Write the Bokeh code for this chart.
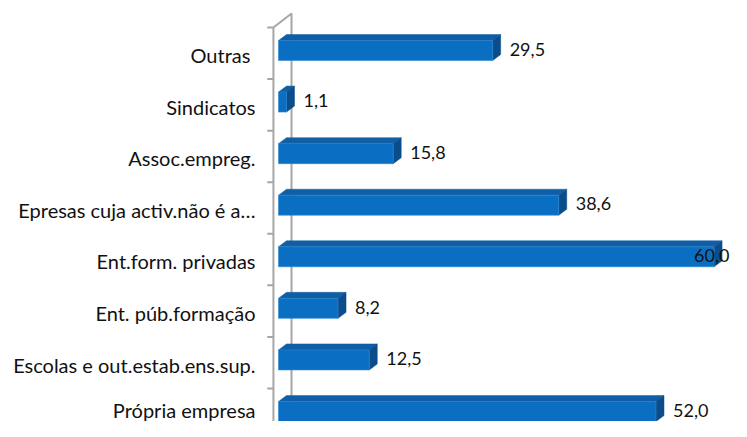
from bokeh.plotting import figure
from bokeh.models import Range1d, FixedTicker, ColumnDataSource
from bokeh.core.properties import value
from bokeh.embed import file_html
from bokeh.resources import INLINE

# ---- data (bottom to top) ----
categories = ["Própria empresa", "Escolas e out.estab.ens.sup.", "Ent. púb.formação",
              "Ent.form. privadas", "Epresas cuja activ.não é a…", "Assoc.empreg.",
              "Sindicatos", "Outras "]
values = [52.0, 12.5, 8.2, 60.0, 38.6, 15.8, 1.1, 29.5]
value_labels = ["52,0", "12,5", "8,2", "60,0", "38,6", "15,8", "1,1", "29,5"]

# ---- style ----
FONT = "Lato"
FS_CAT = "20px"
FS_VAL = "18px"
FRONT = "#0a6fc2"
TOP = "#105fa6"
SIDE = "#0b4c8a"
WALL = "#a6a6a6"

PX_X = 7.26    # pixels per x unit
PX_Y = 51.57   # pixels per y unit
dx = 8 / PX_X          # 3D depth in x units
dy = 6 / PX_Y          # 3D depth in y units
h = 10 / PX_Y          # half height of bar front
yoff = 0.091           # bar centre offset from label row

p = figure(width=731, height=421, output_backend="svg", toolbar_location=None,
           x_range=Range1d(-1.93, 62.40), y_range=Range1d(-0.103, 8.061),
           min_border_left=264, min_border_right=0, min_border_top=0, min_border_bottom=0)
p.xaxis.visible = False
p.grid.visible = False
p.outline_line_color = None
p.background_fill_color = "white"

ys = list(range(len(categories)))
yc = [y + yoff for y in ys]

# wall (side axis wall in 3D)
wx0, wx1 = -0.70, 1.79
seps = [k + 0.537 for k in range(-1, len(categories))]
p.line([wx0, wx0], [seps[-1], -0.6], line_color=WALL, line_width=2)
p.line([wx0, wx1, wx1], [seps[-1], seps[-1] + 14 / PX_Y, -0.161], line_color=WALL, line_width=2)
p.line([wx1, wx0], [-0.161, -0.161 - 13 / PX_Y], line_color=WALL, line_width=2)
p.segment(x0=[-1.55] * len(seps), x1=[wx0] * len(seps), y0=seps, y1=seps,
          line_color=WALL, line_width=2)

# top faces
top_xs = [[0, v, v + dx, dx] for v in values]
top_ys = [[c + h, c + h, c + h + dy, c + h + dy] for c in yc]
p.patches(top_xs, top_ys, fill_color=TOP, line_color=TOP, line_width=0.5)
# side faces
side_xs = [[v, v + dx, v + dx, v] for v in values]
side_ys = [[c - h, c - h + dy, c + h + dy, c + h] for c in yc]
p.patches(side_xs, side_ys, fill_color=SIDE, line_color=SIDE, line_width=0.5)
# front faces
src = ColumnDataSource(dict(y=yc, v=values))
p.hbar(y="y", left=0, right="v", height=2 * h, source=src, fill_color=FRONT,
       line_color="#2a86d0", line_width=0.6)

# value labels (largest one pulled in so it stays inside the chart)
vmax = max(values)
offs = [17 if v < vmax else -20 for v in values]
lsrc = ColumnDataSource(dict(x=values, y=[y + 0.115 for y in ys], t=value_labels, o=offs))
p.text(x="x", y="y", text="t", x_offset="o", source=lsrc, text_font=value(FONT),
       text_font_size=FS_VAL, text_baseline="middle", text_align="left", text_color="#111111")

# category axis
ax = p.yaxis[0]
ax.ticker = FixedTicker(ticks=ys)
ax.major_label_overrides = {i: c for i, c in enumerate(categories)}
ax.axis_line_color = None
ax.major_tick_line_color = None
ax.minor_tick_line_color = None
ax.major_tick_out = 0
ax.major_tick_in = 0
ax.major_label_standoff = 9
ax.major_label_text_font = FONT
ax.major_label_text_font_size = FS_CAT
ax.major_label_text_color = "#111111"

open("out.html", "w").write(file_html(p, INLINE))
